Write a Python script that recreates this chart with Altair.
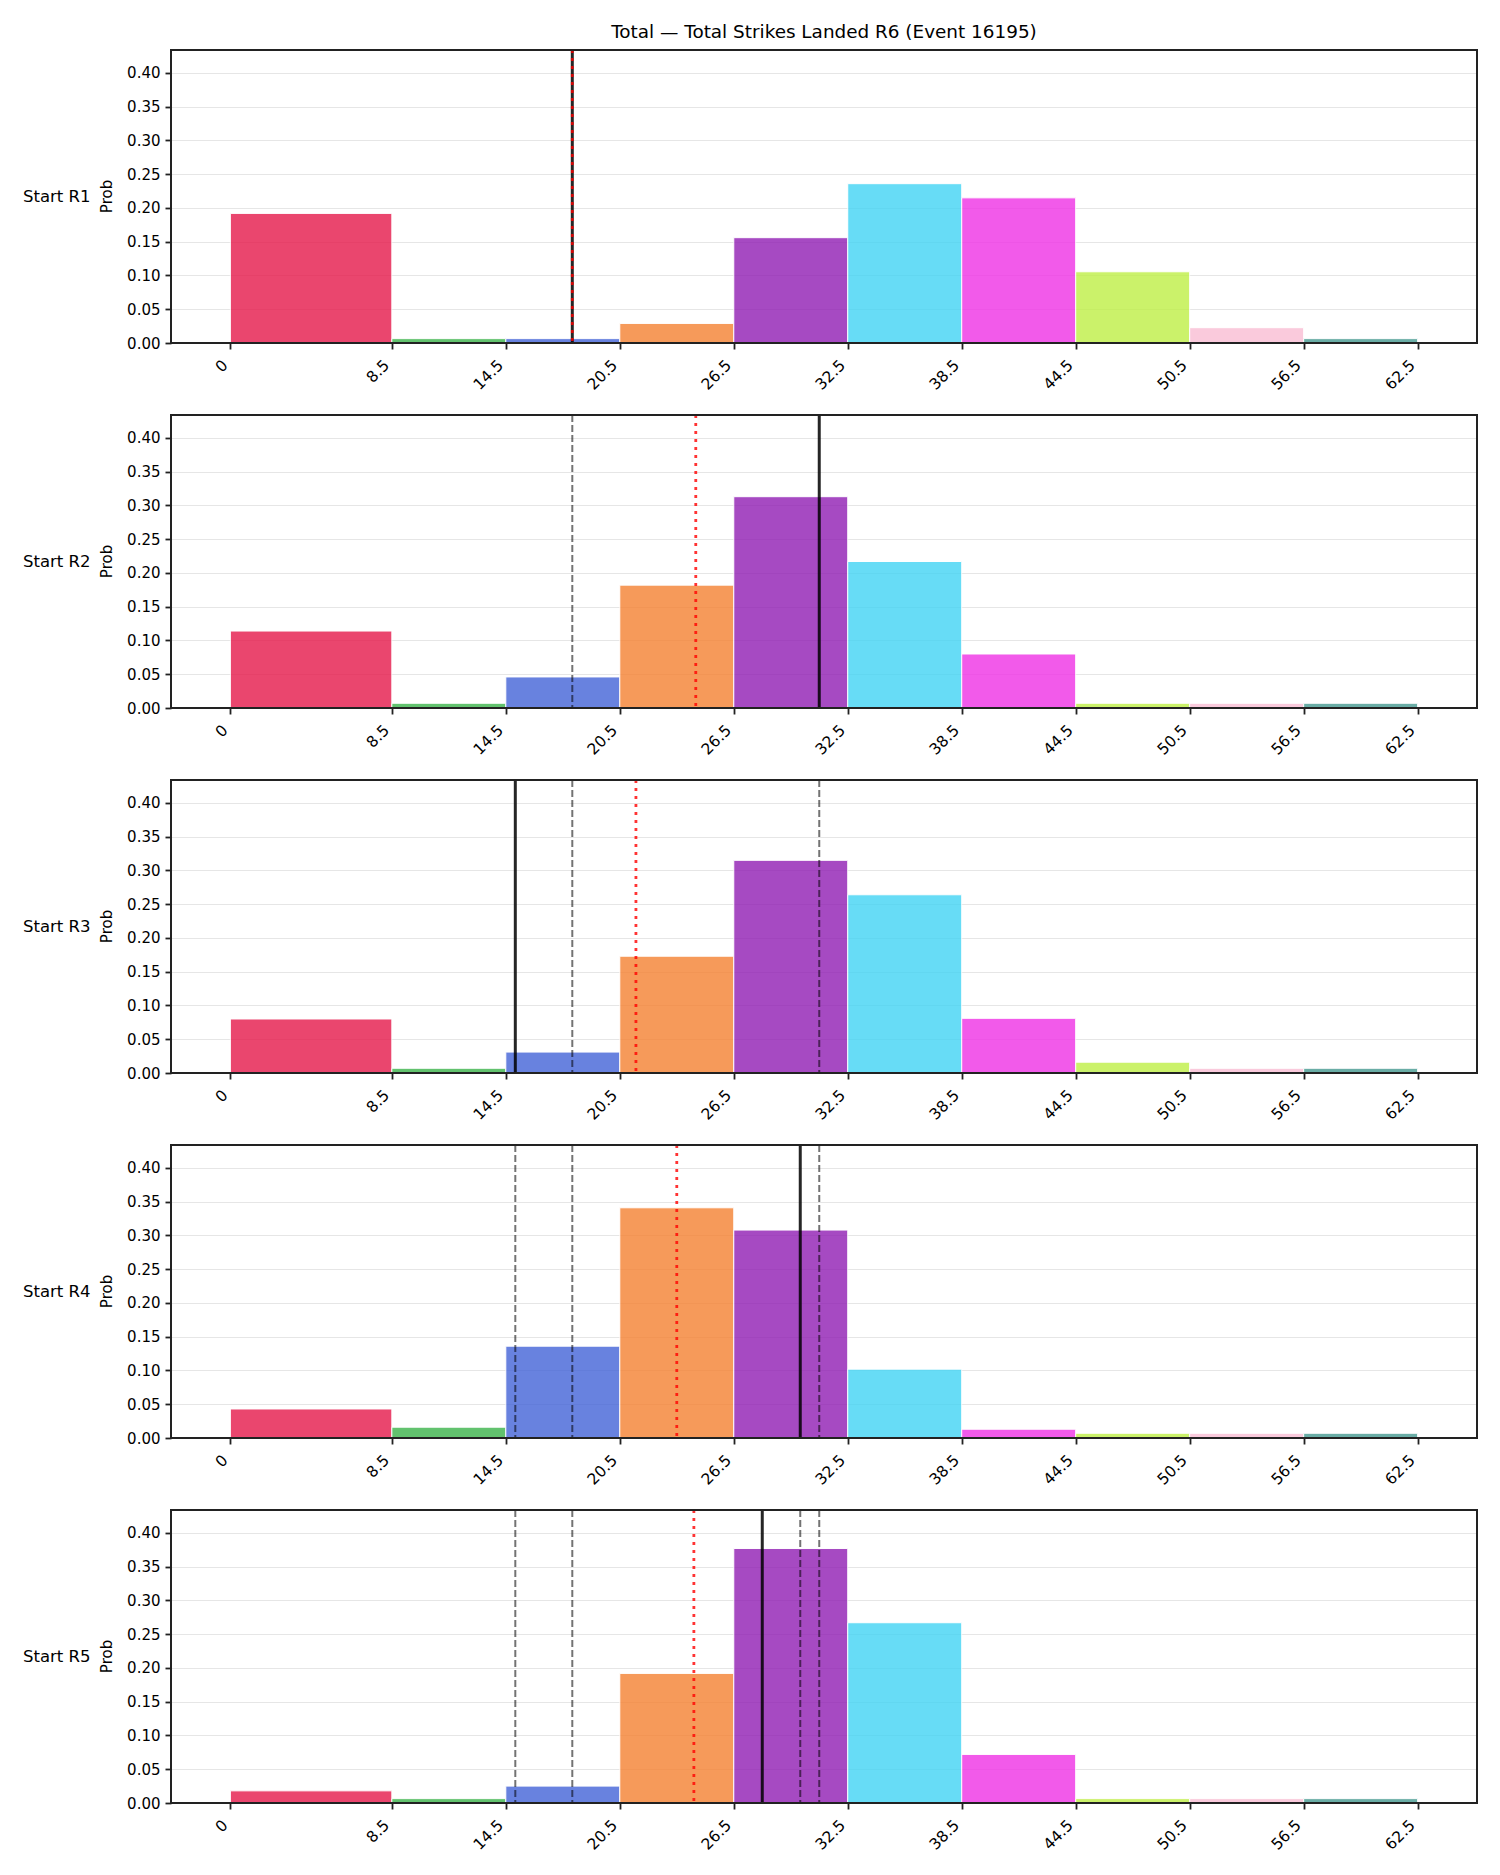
import altair as alt
import pandas as pd

CHART_TITLE = "Total — Total Strikes Landed R6 (Event 16195)"
ROUND_LABELS = ["Start R1", "Start R2", "Start R3", "Start R4", "Start R5"]
BIN_EDGES = [0, 8.5, 14.5, 20.5, 26.5, 32.5, 38.5, 44.5, 50.5, 56.5, 62.5]
Y_TICKS = [0.0, 0.05, 0.10, 0.15, 0.20, 0.25, 0.30, 0.35, 0.40]

# probability of each strike-count bucket, one list per starting round
PROB_R1 = [0.192, 0.0065, 0.0065, 0.029, 0.156, 0.236, 0.215, 0.1055, 0.0227, 0.0065]
PROB_R2 = [0.114, 0.007, 0.046, 0.182, 0.313, 0.217, 0.080, 0.007, 0.007, 0.007]
PROB_R3 = [0.080, 0.007, 0.031, 0.173, 0.315, 0.264, 0.081, 0.016, 0.007, 0.007]
PROB_R4 = [0.043, 0.016, 0.136, 0.341, 0.308, 0.102, 0.013, 0.007, 0.007, 0.007]
PROB_R5 = [0.018, 0.0065, 0.025, 0.192, 0.377, 0.267, 0.072, 0.0065, 0.0065, 0.0065]
PROBS = [PROB_R1, PROB_R2, PROB_R3, PROB_R4, PROB_R5]

# solid black marker per round; earlier rounds come back as dashed lines
ACTUAL = [18, 31, 15, 30, 28]
# red dotted marker per round
MARKET_LINE = [18, 24.5, 21.35, 23.5, 24.4]

BIN_COLORS = ["#e6194b", "#3cb44b", "#4363d8", "#f58231", "#911eb4",
              "#42d4f4", "#f032e6", "#bfef45", "#fabed4", "#469990"]

W, H = 1306, 293
FONT = "DejaVu Sans"

bin_names = [f"{BIN_EDGES[j]}-{BIN_EDGES[j + 1]}" for j in range(len(BIN_EDGES) - 1)]

bar_rows = []
for r, probs in zip(ROUND_LABELS, PROBS):
    for j, p in enumerate(probs):
        bar_rows.append({"round": r, "lo": BIN_EDGES[j], "hi": BIN_EDGES[j + 1],
                         "prob": p, "bin": bin_names[j]})
bars_df = pd.DataFrame(bar_rows)

actual_df = pd.DataFrame({"round": ROUND_LABELS, "x": ACTUAL})
market_df = pd.DataFrame({"round": ROUND_LABELS, "x": MARKET_LINE})
prev_df = pd.DataFrame([{"round": ROUND_LABELS[i], "x": ACTUAL[k]}
                        for i in range(len(ROUND_LABELS)) for k in range(i)])

x_scale = alt.Scale(domain=[-3.125, 65.625], nice=False, zero=False)
y_scale = alt.Scale(domain=[0, 0.434], nice=False)

x_axis = alt.Axis(values=BIN_EDGES, labelAngle=-45, labelAlign="right", labelBaseline="bottom",
                  labelExpr="datum.value == 0 ? '0' : format(datum.value, '.1f')",
                  grid=False, title=None, tickSize=6, labelPadding=19, labelFontSize=15.5)
y_axis = alt.Axis(values=Y_TICKS, format=".2f", grid=True, title=None,
                  tickSize=6, labelPadding=5)

one_row = pd.DataFrame({"k": [0]})


def panel(i):
    r = ROUND_LABELS[i]
    sel = alt.datum["round"] == r
    bars = alt.Chart(bars_df).transform_filter(sel).mark_rect(
        opacity=0.8, stroke="white", strokeWidth=1
    ).encode(
        x=alt.X("lo:Q", scale=x_scale, axis=x_axis),
        x2="hi:Q",
        y=alt.Y("prob:Q", scale=y_scale, axis=y_axis),
        y2=alt.datum(0),
        color=alt.Color("bin:N", scale=alt.Scale(domain=bin_names, range=BIN_COLORS), legend=None),
    )
    prev = alt.Chart(prev_df).transform_filter(sel).mark_rule(
        color="black", opacity=0.55, strokeWidth=2, strokeDash=[7, 3]
    ).encode(x=alt.X("x:Q", scale=x_scale, axis=x_axis))
    actual = alt.Chart(actual_df).transform_filter(sel).mark_rule(
        color="black", opacity=0.85, strokeWidth=3
    ).encode(x=alt.X("x:Q", scale=x_scale, axis=x_axis))
    market = alt.Chart(market_df).transform_filter(sel).mark_rule(
        color="red", opacity=0.8, strokeWidth=2.8, strokeDash=[3, 5]
    ).encode(x=alt.X("x:Q", scale=x_scale, axis=x_axis))
    frame = alt.Chart(one_row).mark_rect(
        fillOpacity=0, stroke="#222222", strokeWidth=2
    ).encode(x=alt.value(0), x2=alt.value(W), y=alt.value(0), y2=alt.value(H))
    row_label = alt.Chart(one_row).mark_text(
        text=r, align="left", baseline="middle", fontSize=16.5, font=FONT, color="black"
    ).encode(x=alt.value(-148), y=alt.value(H / 2))
    prob_label = alt.Chart(one_row).mark_text(
        text="Prob", angle=270, align="center", baseline="middle", fontSize=15, font=FONT, color="black"
    ).encode(x=alt.value(-64), y=alt.value(H / 2))
    layers = [bars, prev, actual, market, frame, row_label, prob_label]
    if i == 0:
        layers.append(alt.Chart(one_row).mark_text(
            text=CHART_TITLE, align="center", baseline="middle", fontSize=18.4, font=FONT, color="black"
        ).encode(x=alt.value(W / 2), y=alt.value(-18.5)))
    return alt.layer(*layers).properties(width=W, height=H)


chart = alt.vconcat(*[panel(i) for i in range(5)], spacing=72, bounds="flush").properties(
    padding={"left": 23, "top": 22, "right": 10, "bottom": 10}
).configure_view(
    stroke=None
).configure_axis(
    labelFont=FONT, labelFontSize=15, labelColor="black",
    tickColor="#222222", tickWidth=1.8, domain=False,
    gridColor="#e6e6e6", gridWidth=1.2,
)

chart.save("out.html", embed_options={"renderer": "svg", "actions": False})
